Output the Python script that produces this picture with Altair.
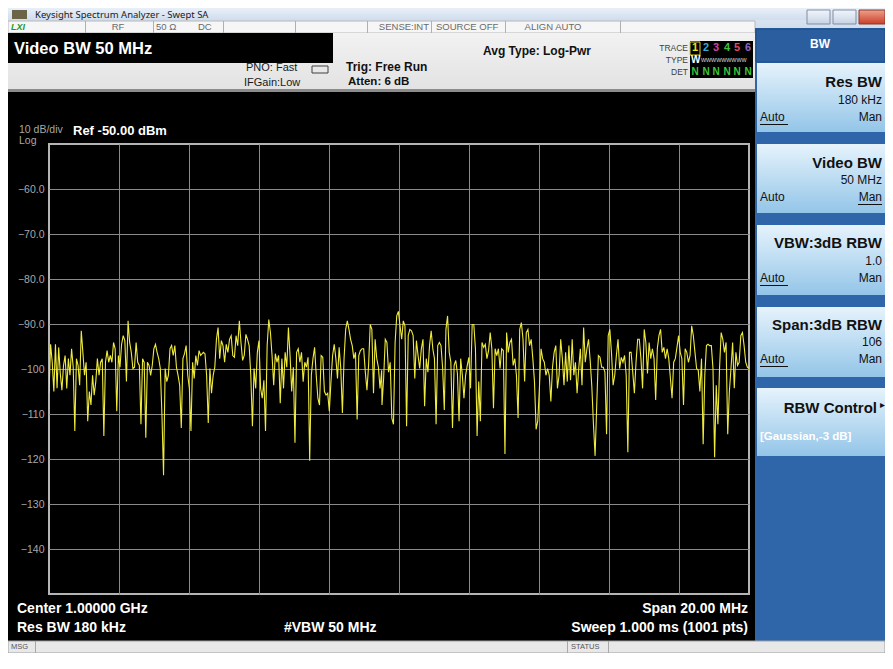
import altair as alt
import numpy as np
import pandas as pd

# ---------------- data (read from the reference screen) ----------------
# trace levels (dBm) read in four consecutive frequency segments
seg_a_mhz = (990.000, 994.333)
seg_a_dbm = [-105.4,-94.5,-98.5,-105.0,-94.5,-104.3,-95.2,-101.0,-104.7,-99.2,
 -97.0,-104.3,-97.7,-101.4,-95.5,-99.6,-113.8,-97.7,-99.2,-103.6,
 -91.5,-96.3,-101.4,-98.5,-111.6,-105.0,-108.0,-101.4,-105.8,-102.8,
 -97.7,-101.4,-98.5,-97.7,-114.9,-98.5,-95.9,-98.5,-97.0,-98.5,
 -94.1,-95.5,-109.4,-97.0,-99.6,-94.5,-92.6,-93.7,-102.8,-89.3,
 -94.1,-96.3,-99.9,-99.6,-94.1,-98.5,-99.2,-112.3,-97.7,-98.5,
 -115.3,-98.5,-99.2,-101.4,-99.2,-95.5,-94.5,-96.3,-97.7,-99.9,
 -110.1,-123.6,-99.9,-102.8,-101.4,-95.5,-94.8,-97.0,-94.8,-99.6,
 -101.4,-103.6,-113.1,-97.7,-96.6,-94.8,-101.4,-104.3,-113.8,-98.5,
 -102.1,-97.0,-99.2,-95.9,-97.0]

seg_b_mhz = (994.410, 999.505)
seg_b_dbm = [-96.3,-96.6,-101.4,-112.0,-99.9,-105.4,-101.4,-99.6,-93.4,-90.8,
 -97.7,-93.7,-94.8,-98.5,-94.5,-96.3,-93.4,-92.6,-97.0,-97.4,
 -92.6,-94.8,-89.3,-94.1,-98.1,-97.0,-92.3,-93.4,-94.8,-101.4,
 -112.7,-99.9,-104.3,-96.3,-93.7,-104.3,-106.5,-102.5,-113.8,-94.8,
 -89.0,-91.9,-97.0,-103.6,-96.6,-98.5,-97.0,-107.6,-97.7,-104.3,
 -96.3,-99.6,-90.8,-97.0,-105.0,-99.6,-116.4,-96.3,-95.5,-98.5,
 -96.3,-102.8,-98.5,-99.6,-97.4,-120.4,-101.4,-97.7,-95.2,-101.4,
 -106.5,-108.0,-97.0,-97.4,-105.0,-105.8,-105.4,-109.4,-102.8,-97.0,
 -94.5,-97.7,-102.1,-95.2,-99.9,-109.8,-97.7,-91.2,-89.3,-91.2,
 -93.4,-94.8,-97.7,-96.3,-111.2,-97.0,-95.9,-95.5,-95.5,-100.7,
 -104.7,-99.2,-90.1,-91.2,-105.4,-93.4,-97.7,-99.6,-104.3,-100.3]

seg_c_mhz = (999.514, 1004.667)
seg_c_dbm = [-108.0,-102.1,-93.4,-94.1,-100.7,-98.5,-110.9,-112.3,-94.1,-88.2,
 -87.2,-90.4,-93.4,-89.3,-90.4,-112.7,-92.6,-91.2,-91.5,-92.6,
 -102.1,-93.7,-97.0,-99.9,-95.5,-93.4,-108.3,-97.7,-100.7,-94.8,
 -91.5,-95.5,-97.7,-112.3,-94.8,-94.1,-94.8,-99.9,-109.1,-91.2,
 -88.2,-96.3,-98.5,-113.1,-99.2,-98.1,-101.0,-111.6,-97.7,-101.4,
 -106.5,-101.4,-99.2,-97.4,-104.3,-90.1,-90.1,-95.5,-114.9,-102.8,
 -111.6,-94.1,-95.2,-94.5,-97.7,-95.9,-91.9,-95.5,-108.7,-95.5,
 -97.0,-95.5,-99.9,-95.5,-95.9,-118.9,-91.9,-96.3,-94.1,-93.4,
 -99.2,-97.7,-101.4,-110.9,-91.2,-89.7,-93.4,-102.8,-91.9,-91.2,
 -94.8,-93.4,-97.7,-102.8,-113.4,-111.6,-104.3,-95.5,-97.7,-98.5,
 -101.4,-99.9,-101.4,-107.2,-99.6,-96.3,-94.8,-104.3,-101.4,-93.4,
 -97.7]

seg_d_mhz = (1004.714, 1010.000)
seg_d_dbm = [-103.6,-96.3,-102.8,-94.8,-102.5,-93.4,-101.4,-98.5,-105.4,-99.9,
 -95.5,-103.6,-90.8,-98.5,-95.5,-93.4,-98.1,-103.9,-112.3,-119.3,
 -108.0,-97.0,-97.4,-99.6,-99.6,-100.7,-114.5,-92.6,-91.2,-96.3,
 -103.6,-101.4,-97.0,-93.4,-99.9,-97.4,-98.5,-97.0,-101.4,-118.5,
 -96.3,-96.3,-100.7,-105.4,-98.5,-93.4,-93.4,-97.7,-104.3,-91.2,
 -94.1,-101.0,-94.1,-97.7,-95.5,-97.7,-106.9,-95.5,-92.6,-91.2,
 -96.3,-95.2,-97.7,-95.5,-97.7,-102.1,-106.5,-98.5,-97.7,-95.2,
 -92.6,-96.3,-97.7,-108.0,-95.5,-96.3,-98.5,-97.0,-90.4,-92.6,
 -96.3,-99.9,-100.3,-105.0,-97.7,-116.7,-101.4,-94.8,-94.5,-94.8,
 -94.8,-99.9,-119.6,-103.6,-112.3,-99.9,-91.9,-93.4,-96.3,-94.1,
 -114.5,-105.0,-99.9,-94.1,-104.3,-96.3,-99.2,-98.5,-92.6,-91.9,
 -94.8,-98.5,-99.6,-99.9]

segments = [(seg_a_mhz, seg_a_dbm), (seg_b_mhz, seg_b_dbm),
            (seg_c_mhz, seg_c_dbm), (seg_d_mhz, seg_d_dbm)]
freq, level = [], []
for (f0, f1), vals in segments:
    freq.extend(np.linspace(f0, f1, len(vals)).tolist())
    level.extend(vals)
trace = pd.DataFrame({"freq_mhz": freq, "level_dbm": level})

x_domain = [990, 1010]
y_domain = [-150, -50]
x_grid = [992, 994, 996, 998, 1000, 1002, 1004, 1006, 1008]
y_ticks = [-60, -70, -80, -90, -100, -110, -120, -130, -140]

# ---------------- layout ----------------
OX, OY = 49, 144          # absolute screen position of the plot-area origin
PW, PH = 700, 450
SANS = "Liberation Sans"
one = alt.Data(values=[{"k": 0}])


def box(x1, y1, x2, y2, fill, stroke=None, sw=1):
    kw = dict(fill=fill)
    if stroke:
        kw.update(stroke=stroke, strokeWidth=sw)
    return alt.Chart(one).mark_rect(**kw).encode(
        x=alt.value(x1 - OX), x2=alt.value(x2 - OX),
        y=alt.value(y1 - OY), y2=alt.value(y2 - OY))


def label(s, x, y, size=11, color="#ffffff", weight="normal", align="left",
          font=SANS, style="normal"):
    return alt.Chart(one).mark_text(
        text=s, align=align, baseline="middle", fontSize=size,
        fontWeight=weight, color=color, font=font, fontStyle=style
    ).encode(x=alt.value(x - OX), y=alt.value(y - OY))


def grad(c0, c1):
    return alt.Gradient(gradient="linear", x1=0, y1=0, x2=0, y2=1,
                        stops=[alt.GradientStop(color=c0, offset=0),
                               alt.GradientStop(color=c1, offset=1)])


layers = []
# window title bar
layers.append(box(8, 8, 885, 21, grad("#e8eff8", "#cfdcec")))
layers.append(box(755, 20, 885, 29, grad("#d8e3f0", "#cfdcec")))
layers.append(box(12, 10, 27, 19, "#6b6446"))
layers.append(box(807, 10, 830, 24, grad("#f2f6fb", "#c6d3e4"), "#7f8ea3"))
layers.append(box(833, 10, 856, 24, grad("#f2f6fb", "#c6d3e4"), "#7f8ea3"))
layers.append(box(859, 10, 885, 24, grad("#f0a08c", "#c8402a"), "#8a3a2a"))
# status cells row
layers.append(box(8, 21, 755, 33, "#f6f6f6", "#b8b8b8"))
for xd in [85, 153, 223, 295, 367, 431, 505, 620]:
    layers.append(box(xd, 21, xd + 1, 33, "#b0b0b0"))
# header area
layers.append(box(8, 33, 755, 91, grad("#f2f2f2", "#e2e2e2")))
layers.append(box(8, 33, 333, 63, "#000000"))
layers.append(box(8, 89, 755, 92, "#8c8c8c"))
layers.append(box(690, 41, 753, 78, "#000000"))
layers.append(box(690, 42, 700, 55, "transparent", "#d8d020", 1))
layers.append(box(312, 66, 328, 73, "transparent", "#404040", 1))
# right-hand soft-key panel
layers.append(box(755, 28, 885, 642, "#2f66a9"))
layers.append(box(756, 29, 885, 62, "#2b5e9e", "#1e4d87"))
for y1, y2 in [(63, 132), (144, 213), (225, 295), (307, 377), (388, 456)]:
    layers.append(box(757, y1, 885, y2, grad("#e6f3fc", "#93c5e8")))
# bottom status bar
layers.append(box(8, 641, 885, 653, "#e8e8e8", "#a0a0a0"))
layers.append(box(35, 641, 36, 653, "#a8a8a8"))
layers.append(box(567, 641, 568, 653, "#a8a8a8"))
layers.append(box(608, 641, 609, 653, "#a8a8a8"))

# ---------------- trace ----------------
plot = alt.Chart(trace).mark_line(color="#efeb3c", strokeWidth=1.1, clip=True).encode(
    x=alt.X("freq_mhz:Q", scale=alt.Scale(domain=x_domain, nice=False, zero=False),
            axis=alt.Axis(values=x_grid, labels=False, ticks=False, domain=False,
                          grid=True, title=None)),
    y=alt.Y("level_dbm:Q", scale=alt.Scale(domain=y_domain, nice=False, zero=False),
            axis=alt.Axis(values=y_ticks, ticks=False, domain=False, grid=True,
                          title=None, labelPadding=5, labelColor="#a8a8a8",
                          labelFont=SANS, labelFontSize=10.5,
                          labelExpr="datum.value > -100 ? format(datum.value, '.1f') : format(datum.value, 'd')")),
)
layers.append(plot)

# ---------------- texts ----------------
T = []
T.append(label("Keysight Spectrum Analyzer - Swept SA", 35, 15, 9.5, "#1a1a1a", font="Noto Sans"))
T.append(label("LXI", 11, 27, 9, "#1f9a1f", "bold", style="italic"))
small_gray = "#6a6a6a"
T.append(label("RF", 118, 27, 9.5, small_gray, align="center"))
T.append(label("50 Ω", 156, 27, 9.5, small_gray))
T.append(label("DC", 198, 27, 9.5, small_gray))
T.append(label("SENSE:INT", 429, 27, 9.5, small_gray, align="right"))
T.append(label("SOURCE OFF", 436, 27, 9.5, small_gray))
T.append(label("ALIGN AUTO", 553, 27, 9.5, small_gray, align="center"))
T.append(label("Video BW 50 MHz", 14, 49, 16.5, "#ffffff", "bold"))
T.append(label("PNO: Fast", 246, 68, 11, "#1a1a1a"))
T.append(label("IFGain:Low", 244, 83, 11, "#1a1a1a"))
T.append(label("Trig: Free Run", 346, 67, 12, "#111111", "bold"))
T.append(label("Atten: 6 dB", 348, 82, 11.5, "#111111", "bold"))
T.append(label("Avg Type: Log-Pwr", 483, 51, 12, "#111111", "bold"))
T.append(label("TRACE", 688, 48, 8.5, "#404040", align="right"))
T.append(label("TYPE", 688, 60, 8.5, "#404040", align="right"))
T.append(label("DET", 688, 72, 8.5, "#404040", align="right"))
for ch, xc, col in [("1", 695, "#e8e020"), ("2", 706, "#38a8d8"), ("3", 716, "#d040a8"),
                    ("4", 727, "#40c040"), ("5", 737, "#e04a6a"), ("6", 748, "#8a66c8")]:
    T.append(label(ch, xc, 48, 11, col, "bold", align="center"))
    T.append(label("N", xc, 72, 10, "#3cc83c", "bold", align="center"))
T.append(label("W", 691, 60, 10, "#ffffff", "bold"))
T.append(label("wwwwwwwww", 701, 60, 7, "#c8c8c8"))
T.append(label("10 dB/div", 19, 130, 10.5, "#a8a8a8"))
T.append(label("Log", 19, 141, 10.5, "#a8a8a8"))
T.append(label("Ref -50.00 dBm", 73, 131, 13, "#ffffff", "bold"))
T.append(label("Center 1.00000 GHz", 17, 609, 14, "#ffffff", "bold"))
T.append(label("Res BW 180 kHz", 17, 628, 14, "#ffffff", "bold"))
T.append(label("#VBW 50 MHz", 284, 628, 14, "#ffffff", "bold"))
T.append(label("Span 20.00 MHz", 748, 609, 14, "#ffffff", "bold", align="right"))
T.append(label("Sweep  1.000 ms (1001 pts)", 748, 628, 14, "#ffffff", "bold", align="right"))
T.append(label("MSG", 11, 647, 7.5, "#555555"))
T.append(label("STATUS", 571, 647, 7.5, "#555555"))
# soft keys
RX = 882
dark = "#111111"
T.append(label("BW", 820, 44, 12, "#ffffff", "bold", align="center"))
keys = [("Res BW", "180 kHz", 82, 100, 117, "auto"),
        ("Video BW", "50 MHz", 163, 180, 197, "man"),
        ("VBW:3dB RBW", "1.0", 243, 261, 278, "auto"),
        ("Span:3dB RBW", "106", 325, 342, 359, "auto")]
for title, val, yt, yv, ya, ul in keys:
    T.append(label(title, RX, yt, 15, dark, "bold", align="right"))
    T.append(label(val, RX, yv, 12, dark, align="right"))
    T.append(label("Auto", 760, ya, 12, dark))
    T.append(label("Man", RX, ya, 12, dark, align="right"))
    if ul == "auto":
        layers.append(box(760, ya + 7, 788, ya + 8, dark))
    else:
        layers.append(box(RX - 24, ya + 7, RX, ya + 8, dark))
T.append(label("RBW Control", RX - 5, 408, 15, dark, "bold", align="right"))
T.append(label("▸", RX, 405, 10, dark, align="center"))
T.append(label("[Gaussian,-3 dB]", 760, 437, 11.5, "#ffffff", "bold"))

chart = alt.layer(*layers, *T).properties(
    width=PW, height=PH,
    autosize=alt.AutoSizeParams(type="none"),
    padding={"left": OX - 8, "top": OY - 8, "right": 885 - (OX + PW), "bottom": 653 - (OY + PH)},
    background="#000000",
).configure_view(stroke="#b4b4b4", strokeWidth=2).configure_axis(
    gridColor="#8a8a8a", gridWidth=1, gridOpacity=1)

chart.save("out.html", embed_options={"renderer": "svg", "actions": False})
